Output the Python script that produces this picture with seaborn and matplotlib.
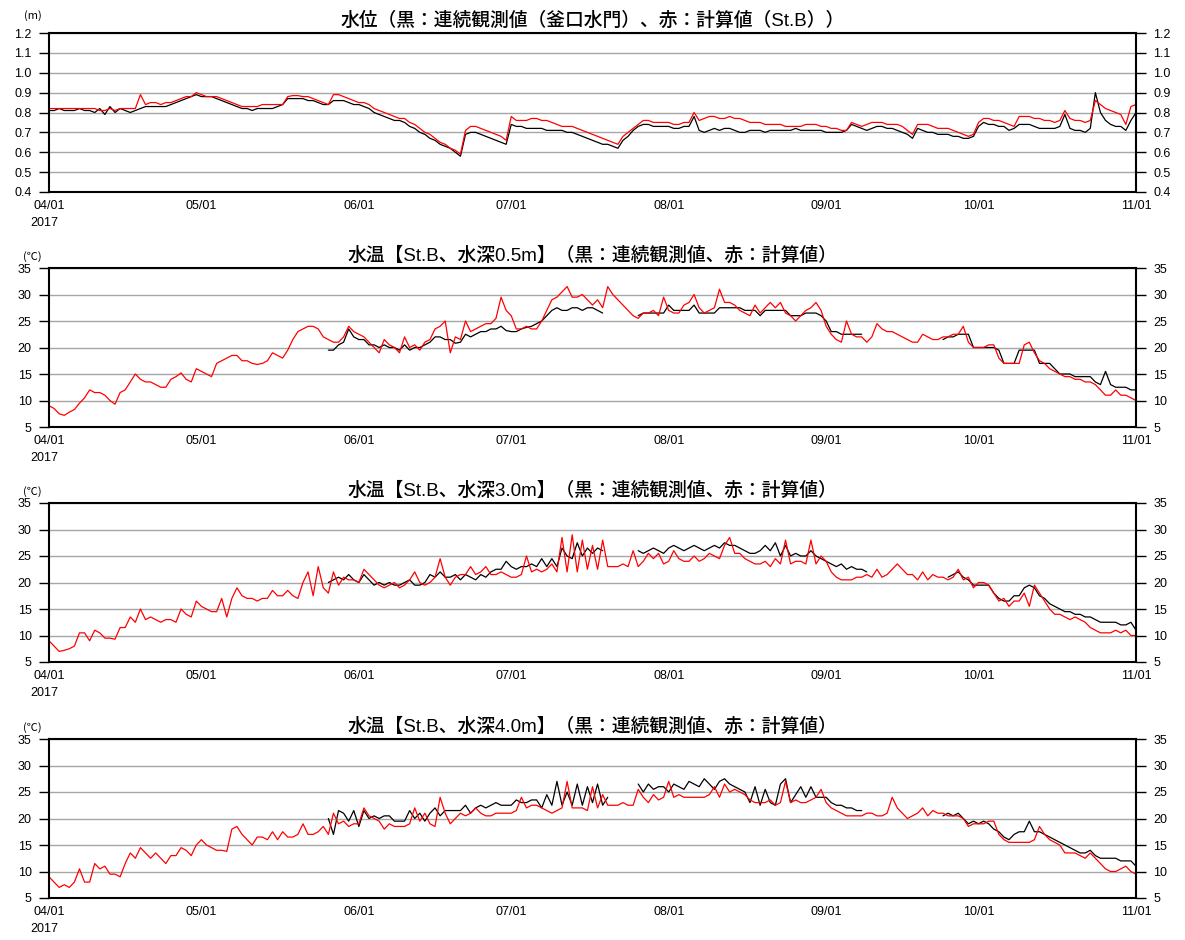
import matplotlib
matplotlib.use('Agg')
import matplotlib.pyplot as plt
import matplotlib.dates as mdates
from matplotlib.ticker import FormatStrFormatter
import numpy as np
import pandas as pd
import seaborn as sns

# 日付: 2017/04/01 から 1日ごと (計算値は04/01〜11/01, 観測値は05/26〜11/01)
CALC_START = '2017-04-01'
OBS_START = '2017-05-26'
N = None

# 水位 (m)  黒: 釜口水門 連続観測値
LEVEL_OBS = [
    0.81, 0.81, 0.82, 0.81, 0.81, 0.81, 0.82, 0.81, 0.81, 0.80,
    0.82, 0.79, 0.83, 0.80, 0.82, 0.81, 0.80, 0.81, 0.82, 0.83,
    0.83, 0.83, 0.83, 0.83, 0.84, 0.85, 0.86, 0.87, 0.88, 0.89,
    0.88, 0.88, 0.88, 0.87, 0.86, 0.85, 0.84, 0.83, 0.82, 0.82,
    0.81, 0.82, 0.82, 0.82, 0.82, 0.83, 0.84, 0.87, 0.87, 0.87,
    0.87, 0.86, 0.86, 0.85, 0.84, 0.84, 0.86, 0.86, 0.86, 0.85,
    0.84, 0.84, 0.83, 0.82, 0.80, 0.79, 0.78, 0.77, 0.76, 0.76,
    0.75, 0.73, 0.72, 0.70, 0.69, 0.67, 0.66, 0.64, 0.63, 0.62,
    0.60, 0.58, 0.69, 0.70, 0.70, 0.69, 0.68, 0.67, 0.66, 0.65,
    0.64, 0.74, 0.73, 0.73, 0.72, 0.72, 0.72, 0.72, 0.71, 0.71,
    0.71, 0.71, 0.70, 0.70, 0.69, 0.68, 0.67, 0.66, 0.65, 0.64,
    0.64, 0.63, 0.62, 0.66, 0.68, 0.71, 0.73, 0.74, 0.74, 0.73,
    0.73, 0.73, 0.73, 0.72, 0.72, 0.73, 0.73, 0.78, 0.71, 0.70,
    0.71, 0.72, 0.71, 0.72, 0.72, 0.71, 0.70, 0.70, 0.71, 0.71,
    0.71, 0.70, 0.71, 0.71, 0.71, 0.71, 0.71, 0.72, 0.71, 0.71,
    0.71, 0.71, 0.71, 0.70, 0.70, 0.70, 0.70, 0.71, 0.74, 0.73,
    0.72, 0.71, 0.72, 0.73, 0.73, 0.72, 0.72, 0.71, 0.70, 0.69,
    0.67, 0.72, 0.71, 0.70, 0.70, 0.69, 0.69, 0.69, 0.68, 0.68,
    0.67, 0.67, 0.68, 0.73, 0.75, 0.74, 0.74, 0.73, 0.73, 0.71,
    0.72, 0.74, 0.74, 0.74, 0.73, 0.72, 0.72, 0.72, 0.72, 0.73,
    0.79, 0.72, 0.71, 0.71, 0.70, 0.72, 0.90, 0.80, 0.76, 0.74,
    0.73, 0.73, 0.71, 0.76, 0.80,
]

# 水位 (m)  赤: St.B 計算値
LEVEL_CALC = [
    0.82, 0.82, 0.82, 0.82, 0.82, 0.82, 0.82, 0.82, 0.82, 0.82,
    0.81, 0.81, 0.82, 0.81, 0.82, 0.82, 0.82, 0.82, 0.89, 0.84,
    0.85, 0.85, 0.84, 0.85, 0.85, 0.86, 0.87, 0.88, 0.88, 0.90,
    0.89, 0.88, 0.88, 0.88, 0.87, 0.86, 0.85, 0.84, 0.83, 0.83,
    0.83, 0.83, 0.84, 0.84, 0.84, 0.84, 0.84, 0.88, 0.885, 0.885,
    0.88, 0.88, 0.87, 0.86, 0.85, 0.84, 0.89, 0.89, 0.88, 0.87,
    0.86, 0.85, 0.85, 0.84, 0.82, 0.81, 0.80, 0.79, 0.78, 0.77,
    0.77, 0.75, 0.74, 0.72, 0.70, 0.69, 0.67, 0.65, 0.64, 0.62,
    0.61, 0.59, 0.71, 0.73, 0.73, 0.72, 0.71, 0.70, 0.69, 0.68,
    0.66, 0.78, 0.76, 0.76, 0.76, 0.77, 0.77, 0.76, 0.76, 0.75,
    0.74, 0.73, 0.73, 0.73, 0.72, 0.71, 0.70, 0.69, 0.68, 0.67,
    0.66, 0.65, 0.64, 0.68, 0.70, 0.72, 0.74, 0.76, 0.76, 0.75,
    0.75, 0.75, 0.75, 0.74, 0.74, 0.75, 0.75, 0.80, 0.76, 0.77,
    0.78, 0.78, 0.77, 0.77, 0.78, 0.77, 0.77, 0.76, 0.75, 0.75,
    0.75, 0.74, 0.74, 0.74, 0.74, 0.73, 0.73, 0.73, 0.73, 0.74,
    0.74, 0.74, 0.73, 0.73, 0.72, 0.72, 0.71, 0.71, 0.75, 0.74,
    0.73, 0.74, 0.75, 0.75, 0.75, 0.74, 0.74, 0.74, 0.73, 0.71,
    0.69, 0.74, 0.74, 0.74, 0.73, 0.72, 0.72, 0.72, 0.71, 0.70,
    0.69, 0.68, 0.69, 0.75, 0.77, 0.77, 0.76, 0.76, 0.75, 0.74,
    0.73, 0.78, 0.78, 0.78, 0.77, 0.77, 0.76, 0.76, 0.75, 0.76,
    0.81, 0.77, 0.76, 0.76, 0.75, 0.76, 0.86, 0.84, 0.82, 0.81,
    0.80, 0.79, 0.74, 0.83, 0.84,
]

# 水温 水深0.5m (℃)
T05_CALC = [
    9.0, 8.5, 7.5, 7.2, 7.8, 8.3, 9.5, 10.5, 12.0, 11.5,
    11.5, 11.0, 10.0, 9.3, 11.5, 12.0, 13.5, 15.0, 14.0, 13.5,
    13.5, 13.0, 12.5, 12.5, 14.0, 14.5, 15.2, 14.0, 13.5, 16.0,
    15.5, 15.0, 14.5, 17.0, 17.5, 18.0, 18.5, 18.5, 17.5, 17.5,
    17.0, 16.8, 17.0, 17.5, 19.0, 18.5, 18.0, 19.5, 21.5, 23.0,
    23.5, 24.0, 24.0, 23.5, 22.0, 21.5, 21.0, 21.0, 22.0, 24.0,
    23.0, 22.5, 22.0, 21.0, 20.0, 19.0, 21.5, 20.5, 20.0, 19.0,
    22.0, 20.0, 20.5, 19.5, 21.0, 21.5, 23.5, 24.0, 25.0, 19.0,
    22.0, 21.5, 25.0, 23.0, 23.5, 24.0, 24.5, 24.5, 25.5, 29.5,
    27.0, 26.0, 23.5, 23.5, 24.0, 23.5, 23.5, 25.0, 27.0, 29.0,
    29.5, 30.5, 31.5, 29.5, 29.5, 30.0, 29.0, 28.0, 29.0, 27.5,
    31.5, 30.0, 29.0, 28.0, 27.0, 26.0, 25.5, 26.5, 26.5, 27.0,
    26.0, 29.5, 27.0, 26.5, 26.5, 28.0, 28.5, 30.0, 27.5, 26.5,
    27.0, 27.5, 31.0, 28.5, 28.5, 28.0, 27.0, 26.5, 26.0, 28.0,
    26.5, 27.5, 28.5, 27.5, 28.5, 26.5, 26.0, 25.0, 26.0, 27.0,
    27.5, 28.5, 27.0, 24.0, 22.5, 21.5, 21.0, 25.0, 22.5, 22.0,
    22.0, 21.0, 22.0, 24.5, 23.5, 23.0, 23.0, 22.5, 22.0, 21.5,
    21.0, 21.0, 22.5, 22.0, 21.5, 21.5, 22.0, 22.0, 22.5, 22.5,
    24.0, 21.0, 20.0, 20.0, 20.0, 20.5, 20.5, 18.0, 17.0, 17.0,
    17.0, 17.0, 20.5, 21.0, 19.0, 17.5, 17.0, 16.0, 15.5, 15.0,
    14.5, 14.5, 14.0, 14.0, 13.5, 13.5, 13.0, 12.0, 11.0, 11.0,
    12.0, 11.0, 11.0, 10.5, 10.0,
]

T05_OBS = [
    19.5, 19.5, 20.5, 21.0, 23.5,
    22.0, 21.5, 21.5, 20.5, 20.5, 20.0, 20.5, 20.0, 20.0, 19.5,
    20.5, 19.5, 20.0, 20.0, 20.5, 21.0, 22.0, 22.0, 21.5, 21.5,
    20.8, 21.0, 22.5, 22.0, 22.5, 23.0, 23.0, 23.5, 23.5, 24.0,
    23.2, 23.0, 23.0, 23.5, 23.8, 24.0, 24.5, 25.0, 26.0, 27.0,
    27.5, 27.0, 27.0, 27.5, 27.5, 27.0, 27.5, 27.5, 27.0, 26.5,
    N, N, N, N, N, N, 26.0, 26.5, 26.5, 26.5,
    26.5, 26.5, 28.0, 27.0, 27.0, 27.0, 27.0, 28.0, 26.5, 26.5,
    26.5, 26.5, 27.5, 27.5, 27.5, 27.5, 27.5, 27.0, 27.0, 27.0,
    26.0, 27.0, 27.0, 27.0, 27.0, 27.0, 26.0, 26.0, 26.0, 26.5,
    26.5, 26.5, 26.0, 25.0, 23.0, 23.0, 22.5, 22.5, 22.5, 22.5,
    22.5, N, N, N, N, N, N, N, N, N,
    N, N, N, N, N, N, 21.5, 22.0, 22.0, 22.5,
    22.5, 22.5, 20.0, 20.0, 20.0, 20.0, 20.0, 19.5, 17.0, 17.0,
    17.0, 19.5, 19.5, 19.5, 19.5, 17.0, 17.0, 17.0, 16.0, 15.0,
    15.0, 15.0, 14.5, 14.5, 14.5, 14.5, 13.5, 13.0, 15.5, 13.0,
    12.5, 12.5, 12.5, 12.0, 12.0,
]

# 水温 水深3.0m (℃)
T30_CALC = [
    9.0, 8.0, 7.0, 7.2, 7.5, 8.0, 10.5, 10.5, 9.0, 11.0,
    10.5, 9.5, 9.5, 9.3, 11.5, 11.5, 13.5, 12.5, 15.0, 13.0,
    13.5, 13.0, 12.5, 13.0, 13.0, 12.5, 15.0, 14.0, 13.5, 16.5,
    15.5, 15.0, 14.5, 14.5, 17.0, 13.5, 17.0, 19.0, 17.5, 17.0,
    17.0, 16.5, 17.0, 17.0, 18.5, 17.5, 17.5, 18.5, 17.5, 17.0,
    20.0, 22.0, 17.5, 23.0, 19.0, 18.0, 22.0, 19.5, 21.0, 20.5,
    20.5, 20.0, 22.5, 21.5, 20.5, 19.5, 19.0, 19.5, 20.0, 19.0,
    19.5, 20.5, 22.0, 20.0, 19.5, 20.0, 21.0, 24.5, 21.0, 19.5,
    21.0, 21.5, 21.5, 23.0, 21.5, 22.0, 23.0, 21.5, 21.5, 22.0,
    21.5, 21.0, 21.0, 21.5, 25.0, 22.0, 22.5, 22.0, 22.5, 23.5,
    22.0, 28.5, 22.0, 29.0, 22.0, 28.0, 22.5, 27.0, 22.5, 28.0,
    23.0, 23.0, 23.0, 23.5, 23.0, 26.0, 23.0, 24.0, 25.5, 24.5,
    25.5, 23.5, 24.0, 26.0, 24.5, 24.0, 24.0, 25.0, 24.0, 24.5,
    25.5, 25.0, 24.5, 27.0, 28.5, 25.5, 25.5, 24.5, 24.0, 23.5,
    23.5, 24.0, 23.0, 24.5, 23.5, 28.0, 23.5, 24.0, 24.0, 23.5,
    28.0, 23.5, 25.0, 24.0, 22.0, 21.0, 20.5, 20.5, 20.5, 21.0,
    21.0, 21.5, 21.0, 22.5, 21.0, 21.5, 22.5, 23.5, 22.5, 21.5,
    21.5, 20.5, 22.0, 20.5, 21.5, 21.0, 21.0, 20.5, 21.0, 22.5,
    20.5, 21.0, 19.0, 20.0, 20.0, 19.5, 18.0, 16.5, 17.0, 15.5,
    16.5, 16.5, 18.0, 15.5, 19.5, 18.0, 16.5, 15.0, 14.0, 14.0,
    13.5, 13.0, 13.5, 13.0, 12.5, 11.5, 11.0, 10.5, 10.5, 10.5,
    11.0, 10.5, 11.0, 10.0, 10.0,
]

T30_OBS = [
    20.0, 20.5, 21.0, 20.5, 21.5,
    20.5, 20.0, 21.5, 20.5, 19.5, 20.0, 19.5, 20.0, 19.5, 19.5,
    20.0, 20.5, 19.5, 19.5, 20.0, 21.5, 21.0, 22.0, 21.0, 21.0,
    21.5, 20.5, 21.5, 21.0, 20.5, 21.5, 21.0, 22.0, 22.5, 22.5,
    24.0, 23.0, 22.5, 23.0, 23.0, 23.5, 23.0, 24.5, 23.0, 24.5,
    23.0, 26.5, 25.0, 24.5, 27.5, 25.0, 26.5, 25.5, 26.5, 26.0,
    N, N, N, N, N, N, 26.0, 25.5, 26.0, 26.5,
    26.0, 25.5, 26.5, 27.0, 26.5, 26.0, 26.5, 27.0, 26.5, 26.0,
    26.5, 27.0, 26.5, 27.5, 27.0, 27.0, 26.5, 26.0, 25.5, 25.5,
    26.0, 27.0, 26.0, 27.5, 25.0, 27.0, 25.0, 25.5, 25.0, 25.0,
    26.0, 25.0, 24.5, 24.0, 23.5, 23.0, 23.5, 22.5, 23.0, 22.5,
    22.5, 22.0, N, N, N, N, N, N, N, N,
    N, N, N, N, N, N, N, 21.0, 21.5, 22.0,
    21.0, 20.5, 19.5, 19.5, 19.5, 19.5, 18.0, 17.0, 16.5, 16.5,
    17.5, 17.5, 19.0, 19.5, 19.0, 17.5, 17.0, 16.0, 15.5, 15.0,
    14.5, 14.5, 14.0, 14.0, 13.5, 13.5, 13.0, 12.5, 12.5, 12.5,
    12.5, 12.0, 12.0, 12.5, 11.0,
]

# 水温 水深4.0m (℃)
T40_CALC = [
    9.0, 8.0, 7.0, 7.5, 7.0, 8.0, 10.5, 8.0, 8.0, 11.5,
    10.5, 11.0, 9.5, 9.5, 9.0, 11.5, 13.5, 12.5, 14.5, 13.5,
    12.5, 13.5, 12.5, 11.5, 13.0, 13.0, 14.5, 14.0, 13.0, 15.0,
    16.0, 15.0, 14.5, 14.0, 14.0, 13.8, 18.0, 18.5, 17.0, 16.0,
    15.0, 16.5, 16.5, 16.0, 17.5, 16.0, 17.5, 16.5, 16.5, 17.0,
    19.0, 17.0, 17.0, 17.5, 18.5, 17.0, 21.0, 19.0, 19.5, 18.5,
    19.0, 19.0, 22.0, 20.5, 20.0, 19.5, 18.0, 19.0, 18.5, 18.5,
    18.5, 19.0, 22.0, 19.5, 21.0, 19.0, 18.5, 24.0, 21.0, 19.0,
    20.0, 21.0, 20.5, 21.0, 22.0, 21.0, 20.5, 20.5, 21.0, 21.0,
    21.0, 21.0, 21.5, 24.0, 22.0, 22.5, 22.5, 22.0, 21.5, 21.0,
    21.5, 22.0, 27.0, 22.0, 22.0, 22.0, 21.5, 26.0, 22.0, 24.5,
    22.5, 22.5, 22.5, 23.0, 22.5, 22.5, 25.5, 24.0, 23.0, 24.5,
    23.5, 24.0, 27.0, 24.0, 24.5, 24.0, 24.0, 24.0, 24.0, 24.0,
    24.5, 26.0, 24.0, 26.5, 25.0, 25.5, 25.0, 24.5, 23.5, 23.0,
    23.0, 23.0, 23.5, 22.5, 23.0, 27.0, 23.0, 23.5, 23.0, 23.0,
    23.5, 24.0, 25.5, 23.0, 22.0, 21.5, 21.0, 20.5, 20.5, 20.5,
    20.5, 21.0, 21.0, 20.5, 20.5, 21.0, 24.0, 22.0, 21.0, 20.0,
    20.5, 21.0, 22.0, 20.5, 21.5, 21.0, 21.0, 20.5, 20.5, 20.5,
    20.0, 18.5, 19.0, 19.0, 19.0, 19.5, 19.5, 17.0, 16.0, 15.5,
    15.5, 15.5, 15.5, 15.5, 16.0, 18.5, 17.0, 16.0, 15.5, 15.0,
    13.5, 13.5, 13.5, 13.0, 12.5, 13.5, 12.5, 11.5, 10.5, 10.0,
    10.0, 10.5, 11.0, 10.0, 9.5,
]

T40_OBS = [
    20.0, 17.0, 21.5, 21.0, 19.5,
    21.5, 18.5, 21.5, 20.0, 20.5, 20.0, 20.5, 20.5, 19.5, 19.5,
    19.5, 21.5, 20.0, 21.0, 19.5, 21.0, 22.0, 20.5, 21.5, 21.5,
    21.5, 21.5, 22.5, 21.0, 22.0, 22.5, 22.0, 22.5, 23.0, 22.5,
    22.5, 22.5, 23.5, 23.0, 23.0, 23.5, 23.5, 22.0, 24.5, 22.5,
    27.0, 22.5, 25.0, 22.5, 26.5, 22.5, 26.0, 23.0, 26.5, 22.5,
    24.0, N, N, N, N, N, 26.5, 25.0, 26.5, 25.5,
    26.0, 26.0, 25.0, 26.5, 26.0, 25.5, 27.0, 26.5, 26.0, 27.5,
    26.5, 25.5, 27.0, 27.5, 26.5, 26.0, 25.5, 25.0, 23.0, 26.0,
    22.5, 25.5, 23.0, 22.5, 26.5, 27.5, 23.0, 24.5, 26.0, 24.0,
    26.0, 24.0, 24.0, 24.0, 23.0, 22.5, 22.5, 22.0, 22.0, 21.5,
    21.5, N, N, N, N, N, N, N, N, N,
    N, N, N, N, N, N, 20.5, 21.0, 20.5, 21.0,
    20.0, 19.0, 19.5, 19.0, 19.5, 19.0, 18.0, 17.5, 16.5, 16.0,
    17.0, 17.5, 17.5, 19.5, 17.5, 17.5, 17.0, 16.5, 16.0, 15.5,
    15.0, 14.5, 14.0, 13.5, 13.5, 14.0, 13.0, 12.5, 12.5, 12.5,
    12.5, 12.0, 12.0, 12.0, 11.0,
]

TITLES = [
    '水位（黒：連続観測値（釜口水門）、赤：計算値（St.B））',
    '水温【St.B、水深0.5m】（黒：連続観測値、赤：計算値）',
    '水温【St.B、水深3.0m】（黒：連続観測値、赤：計算値）',
    '水温【St.B、水深4.0m】（黒：連続観測値、赤：計算値）',
]
UNITS = ['(m)', '(℃)', '(℃)', '(℃)']
LEVEL_TICKS = [0.4, 0.5, 0.6, 0.7, 0.8, 0.9, 1.0, 1.1, 1.2]
TEMP_TICKS = [5, 10, 15, 20, 25, 30, 35]

sns.set_style('white')
JP = ['Noto Sans CJK JP', 'DejaVu Sans']
TITLE_FONT = ['Liberation Sans', 'Noto Sans CJK JP', 'DejaVu Sans']
plt.rcParams['font.family'] = ['Liberation Sans', 'Noto Sans CJK JP', 'DejaVu Sans']
plt.rcParams['text.color'] = 'black'
plt.rcParams['xtick.color'] = 'black'
plt.rcParams['ytick.color'] = 'black'
plt.rcParams['axes.labelcolor'] = 'black'


def make_frame(values, start, name):
    s = pd.Series(values, dtype=float)
    df = pd.DataFrame({
        'date': pd.date_range(start, periods=len(s), freq='D'),
        'value': s.values,
        'series': name,
    })
    # 欠測で線を切る
    df['seg'] = df['value'].isna().cumsum()
    return df.dropna()


panels = [
    (LEVEL_OBS, CALC_START, LEVEL_CALC, LEVEL_TICKS, '%.1f'),
    (T05_OBS, OBS_START, T05_CALC, TEMP_TICKS, '%d'),
    (T30_OBS, OBS_START, T30_CALC, TEMP_TICKS, '%d'),
    (T40_OBS, OBS_START, T40_CALC, TEMP_TICKS, '%d'),
]

fig = plt.figure(figsize=(11.85, 9.4), dpi=100)
left, width, height = 49 / 1185, 1087 / 1185, 159 / 940
bottoms = [1 - 192 / 940, 1 - 427 / 940, 1 - 662 / 940, 1 - 898 / 940]

for i, (obs, obs_start, calc, ticks, fmt) in enumerate(panels):
    ax = fig.add_axes([left, bottoms[i], width, height])
    df = pd.concat([make_frame(obs, obs_start, 'obs'),
                    make_frame(calc, CALC_START, 'calc')])
    sns.lineplot(data=df, x='date', y='value', hue='series', units='seg',
                 estimator=None, hue_order=['obs', 'calc'],
                 palette={'obs': 'black', 'calc': 'red'},
                 linewidth=0.9, legend=False, ax=ax)

    ax.set_xlim(pd.Timestamp('2017-04-01'), pd.Timestamp('2017-11-01'))
    ax.set_ylim(ticks[0], ticks[-1])
    ax.set_yticks(ticks)
    ax.yaxis.set_major_formatter(FormatStrFormatter(fmt))
    ax.yaxis.grid(True, color='#a6a6a6', linewidth=1.0)
    ax.xaxis.grid(False)
    ax.set_axisbelow(True)
    ax.tick_params(axis='y', left=True, right=True, labelleft=True, labelright=True,
                   direction='out', length=7.5, width=1.0, pad=5, labelsize=9)

    ax.xaxis.set_major_locator(mdates.MonthLocator())
    ax.xaxis.set_minor_locator(mdates.DayLocator(bymonthday=[11, 21]))
    ax.xaxis.set_major_formatter(mdates.DateFormatter('%m/%d'))
    ax.tick_params(axis='x', which='major', direction='in', length=7, width=1.0,
                   pad=6, labelsize=9)
    ax.tick_params(axis='x', which='minor', direction='in', length=4, width=0.8)

    for sp in ax.spines.values():
        sp.set_linewidth(1.5)
        sp.set_color('black')
    ax.set_xlabel('')
    ax.set_ylabel('')

    ax.set_title(TITLES[i], fontsize=13.5, family=TITLE_FONT, fontweight='medium',
                 pad=5, color='black')
    unit_y = 1.107 if i == 0 else 1.07
    ax.text(-0.015, unit_y, UNITS[i], transform=ax.transAxes, ha='center',
            va='center', fontsize=8, family=JP)
    ax.text(-0.004, -0.195, '2017', transform=ax.transAxes, ha='center',
            va='center', fontsize=9)

fig.savefig('out.png', dpi=100)
